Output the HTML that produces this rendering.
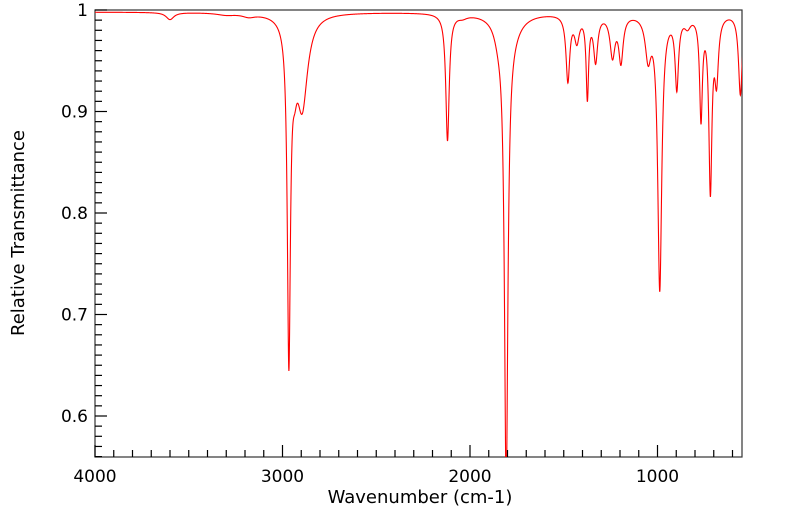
<!DOCTYPE html>
<html><head><style>body{margin:0;background:#fff}svg text{font-family:"DejaVu Sans","Liberation Sans",sans-serif;fill:#000}</style></head>
<body>
<svg id="s" width="799" height="516" xmlns="http://www.w3.org/2000/svg">
<defs><clipPath id="c"><rect x="95" y="10" width="647" height="447"/></clipPath></defs>
<rect x="95" y="10" width="647" height="447" fill="none" stroke="#333" stroke-width="1.2"/>
<path id="p" clip-path="url(#c)" fill="none" stroke="#f00" stroke-width="1.1"/>
<g id="t" stroke="#000" stroke-width="1.2"></g>
<g id="l" font-size="17"></g>
<text x="420" y="503" font-size="18" text-anchor="middle">Wavenumber (cm-1)</text>
<text transform="translate(24,233) rotate(-90)" font-size="18" text-anchor="middle">Relative Transmittance</text>
</svg>
<script>
const X=w=>95+(4000-w)*0.1875, Y=t=>10+(1-t)*1015;
const pk=[[3600,0.007,25],[3300,0.002,60],[3180,0.003,40],[2966,0.33,10],[2935,0.03,15],[2895,0.09,35],[2120,0.125,11],[2040,0.003,30],[1850,0.01,25],[1807,0.45,11],[1790,0.02,60],[1478,0.065,12],[1430,0.025,15],[1374,0.08,8],[1330,0.045,13],[1240,0.04,16],[1195,0.045,14],[1050,0.04,18],[988,0.27,13],[897,0.07,11],[840,0.01,20],[768,0.1,9],[718,0.17,10],[685,0.06,12],[558,0.08,12]];
let d="";
for(let w=4000;w>=545;w-=1){let t=0.998;for(const[c,a,g]of pk){const u=(w-c)/g;t-=a/(1+u*u);}
d+=(d?"L":"M")+X(w).toFixed(2)+","+Y(t).toFixed(2);}
document.getElementById("p").setAttribute("d",d);
let tk="",lb="";
for(let w=4000;w>=600;w-=100){const x=X(w),L=w%1000==0?12:7;tk+=`<line x1="${x}" y1="457" x2="${x}" y2="${457-L}"/>`;
if(w%1000==0)lb+=`<text x="${x}" y="482" text-anchor="middle">${w}</text>`;}
for(let i=56;i<=100;i++){const t=i/100,y=Y(t),L=i%10==0?12:7;tk+=`<line x1="95" y1="${y}" x2="${95+L}" y2="${y}"/>`;
if(i%10==0)lb+=`<text x="88" y="${y+6}" text-anchor="end">${i==100?"1":(t.toFixed(1))}</text>`;}
document.getElementById("t").innerHTML=tk;document.getElementById("l").innerHTML=lb;
</script>
</body></html>
